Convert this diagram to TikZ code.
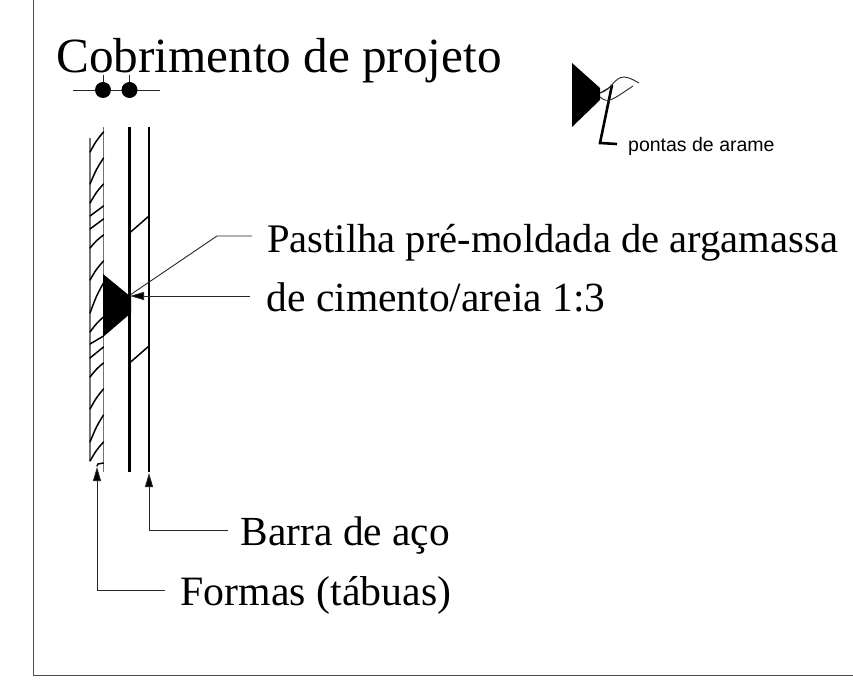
\documentclass[tikz,border=0pt]{standalone}
\usepackage{fontspec}
\setmainfont{Liberation Serif}
\newfontfamily\labelsans{Liberation Sans}
\usetikzlibrary{arrows.meta}
\tikzset{
  thinline/.style={draw=black!85,line width=0.9pt},
  formline/.style={draw=black!55,line width=1.2pt},
  hatchline/.style={draw=black,line width=1.5pt,line cap=round},
  barline/.style={draw=black,line width=2.6pt},
  solidmark/.style={fill=black,draw=none},
  headarrow/.style={-{Triangle[length=14pt,width=8pt,fill=black]}},
  bigtext/.style={anchor=base west,inner sep=0pt},
}
\begin{document}
\begin{tikzpicture}[x=1pt,y=-1pt]
\useasboundingbox (0,0) rectangle (853,684);
% frame
\coordinate (ftop) at (33,0);
\coordinate (fcorner) at (33,675);
\coordinate (fend) at (853,675);
\draw[thinline,draw=black!70] (ftop) -- (fcorner) -- (fend);
% texts
\node[bigtext,font=\fontsize{49.2}{49}\selectfont] (title) at (56,73) {Cobrimento de projeto};
\node[bigtext,font=\fontsize{40.6}{41}\selectfont] (pastilha) at (267,253) {Pastilha pré-moldada de argamassa};
\node[bigtext,font=\fontsize{41.5}{41}\selectfont] (cimento) at (266.5,312) {de cimento/areia 1:3};
\node[bigtext,font=\fontsize{41.4}{41}\selectfont] (barra) at (240.5,545) {Barra de aço};
\node[bigtext,font=\fontsize{41.8}{41}\selectfont] (formas) at (180.5,605.5) {Formas (tábuas)};
\node[bigtext,font=\labelsans\fontsize{19.5}{19.5}\selectfont] (pontas) at (628,151.5) {pontas de arame};
% dimension mark
\coordinate (dl) at (73,90);
\coordinate (dr) at (160,90);
\coordinate (d1) at (103,90);
\coordinate (d2) at (129.5,90);
\coordinate (t1) at (103,75);
\coordinate (t2) at (129.5,75);
\draw[thinline] (dl) -- (dr);
\draw[thinline] (t1) -- (d1);
\draw[thinline] (t2) -- (d2);
\fill[solidmark] (d1) circle (8);
\fill[solidmark] (d2) circle (8);
% forms
\coordinate (fla) at (90,138);
\coordinate (flb) at (90,461);
\coordinate (fra) at (103.5,127);
\coordinate (frb) at (103.5,472);
\draw[formline] (fla) -- (flb);
\draw[formline] (fra) -- (frb);
\foreach \ya/\yb in {152/132,184/158,203/184,216/206,229/219,248/235,280/261,313/283,332/317,344/336,358/347,377/363,409/389,442/415,461/442}{
  \pgfmathsetmacro{\yc}{\yb+(\ya-\yb)*0.42}
  \draw[hatchline] (90,\ya) .. controls (96.5,\yc) .. (103.5,\yb);
}
\draw[hatchline] (97,466) -- (98,464) -- (103.5,463);
% bars
\coordinate (bla) at (129.5,127);
\coordinate (blb) at (129.5,472);
\coordinate (bra) at (149,127);
\coordinate (brb) at (149,472);
\draw[barline] (bla) -- (blb);
\draw[barline,line width=2.3pt] (bra) -- (brb);
\draw[hatchline] (129.5,233) -- (149,216);
\draw[hatchline] (129.5,363) -- (149,346);
% spacer
\fill[solidmark] (103,274) -- (131,297) -- (131,313) -- (103,337) -- cycle;
% leaders
\coordinate (lp1) at (130,295);
\coordinate (lp2) at (217,236);
\coordinate (lp3) at (252,236);
\coordinate (lc1) at (250,296);
\coordinate (lc2) at (130,296);
\draw[thinline] (lp1) -- (lp2) -- (lp3);
\draw[thinline,headarrow] (lc1) -- (lc2);
% bottom leaders
\coordinate (ba) at (228,530);
\coordinate (bb) at (149,530);
\coordinate (bc) at (149,473);
\coordinate (fa) at (165,590);
\coordinate (fb) at (97,590);
\coordinate (fc) at (97,467);
\draw[thinline,headarrow] (ba) -- (bb) -- (bc);
\draw[thinline,headarrow] (fa) -- (fb) -- (fc);
% detail
\fill[solidmark] (572,63) -- (600,88) -- (600,100) -- (572,127) -- cycle;
\coordinate (la) at (612,85);
\coordinate (lb) at (600,143);
\coordinate (lc) at (617,144);
\draw[draw=black,line width=2.6pt] (la) -- (lb) -- (lc);
\draw[thinline] (600,93) .. controls (612,90) and (614,77) .. (624,77) .. controls (630,78) .. (639,83);
\draw[thinline] (600,97) .. controls (608,104) and (612,100) .. (633,86);
\draw[thinline] (600,93) -- (612,86);
\end{tikzpicture}
\end{document}
